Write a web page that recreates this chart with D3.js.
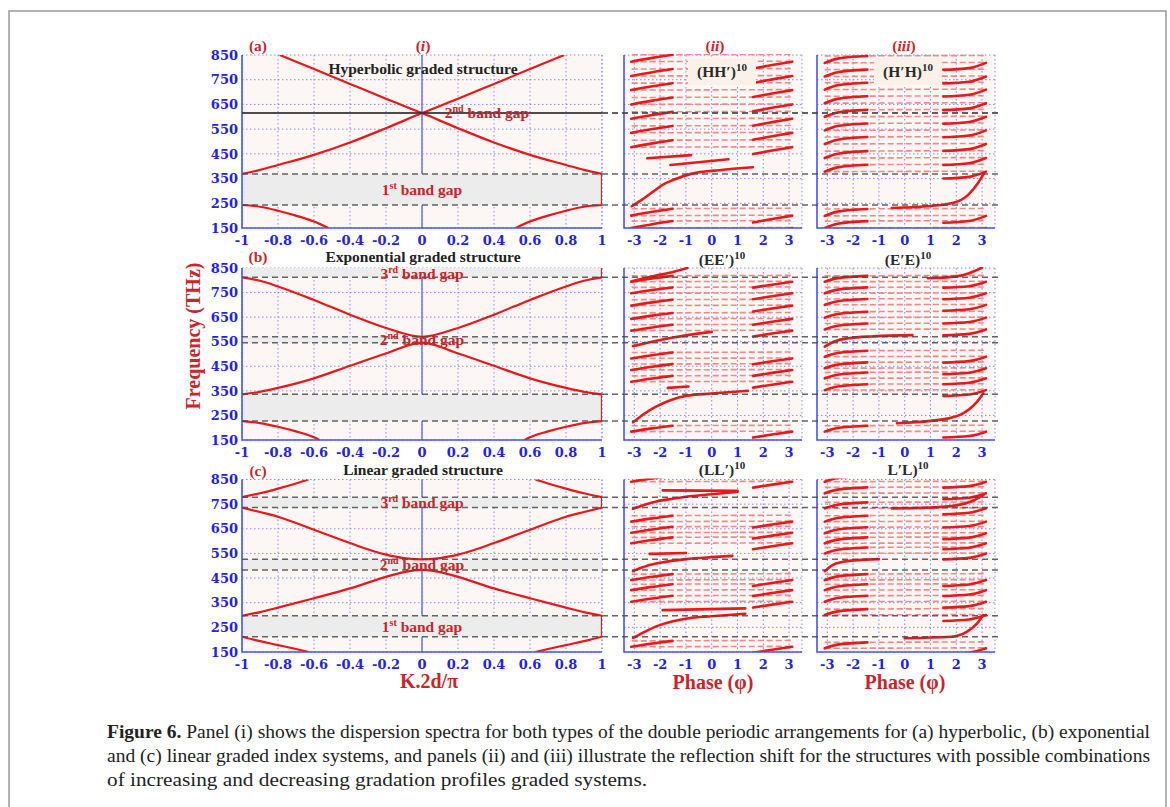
<!DOCTYPE html>
<html>
<head>
<meta charset="utf-8">
<script src="https://cdn.jsdelivr.net/npm/d3@7"></script>
<style>
  body { margin: 0; background: #fff; }
  svg { display: block; }
  .tick { font-family: "DejaVu Serif", serif; font-weight: bold; font-size: 13px; fill: #2424e0; }
  .lbl { font-family: "Liberation Serif", serif; font-weight: bold; font-size: 15.5px; }
  .ttl { font-family: "Liberation Serif", serif; font-weight: bold; font-size: 20px; fill: #c8262a; }
  .cap { font-family: "Liberation Serif", serif; font-size: 18.5px; fill: #222; }
</style>
</head>
<body>
<div id="chart"></div>
<script>
// ---- data ----
var freqTicks = [150, 250, 350, 450, 550, 650, 750, 850];
var kTicks = [-1, -0.8, -0.6, -0.4, -0.2, 0, 0.2, 0.4, 0.6, 0.8, 1];
var phaseTicks = [-3, -2, -1, 0, 1, 2, 3];
var rowLetters = ['(a)', '(b)', '(c)'];
var colTitles = ['i', 'ii', 'iii'];
var structures = ['Hyperbolic graded structure', 'Exponential graded structure', 'Linear graded structure'];
var stackII = ['(HH\u2032)', '(EE\u2032)', '(LL\u2032)'];
var stackIII = ['(H\u2032H)', '(E\u2032E)', 'L\u2032L)'];
var periods = '10';

// band gap edges, THz
var gapsA = [[243, 369], [615, 615]];
var gapsB = [[227, 336], [546, 570], [812, 870]];
var gapsC = [[212, 297], [483, 526], [736, 778]];

var gapNamesA = [['2', 'nd'], ['1', 'st']];
var gapNamesB = [['3', 'rd'], ['2', 'nd']];
var gapNamesC = [['3', 'rd'], ['2', 'nd'], ['1', 'st']];

// dispersion branches [K.2d/pi, THz]
var bandsA = [
  [[-1, 243], [-0.9, 236], [-0.8, 220], [-0.7, 200], [-0.6, 176], [-0.52, 150]],
  [[0.52, 150], [0.6, 176], [0.7, 200], [0.8, 220], [0.9, 236], [1, 243]],
  [[-1, 369], [-0.9, 385], [-0.8, 405], [-0.6, 446], [-0.4, 496], [-0.2, 554], [0, 615], [0.2, 673], [0.4, 733], [0.6, 793], [0.79, 850]],
  [[-0.79, 850], [-0.6, 793], [-0.4, 733], [-0.2, 673], [0, 615], [0.2, 554], [0.4, 496], [0.6, 446], [0.8, 405], [0.9, 385], [1, 369]]
];
var bandsB = [
  [[-1, 227], [-0.9, 219], [-0.8, 204], [-0.7, 185], [-0.6, 161], [-0.57, 150]],
  [[0.57, 150], [0.6, 161], [0.7, 185], [0.8, 204], [0.9, 219], [1, 227]],
  [[-1, 336], [-0.9, 346], [-0.8, 362], [-0.6, 401], [-0.4, 452], [-0.2, 502], [0, 546], [0.2, 502], [0.4, 452], [0.6, 401], [0.8, 362], [0.9, 346], [1, 336]],
  [[-1, 812], [-0.9, 798], [-0.8, 775], [-0.6, 720], [-0.4, 660], [-0.2, 606], [0, 570], [0.2, 606], [0.4, 660], [0.6, 720], [0.8, 775], [0.9, 798], [1, 812]]
];
var bandsC = [
  [[-1, 212], [-0.93, 199], [-0.8, 178], [-0.7, 162], [-0.63, 150]],
  [[0.63, 150], [0.7, 162], [0.8, 178], [0.93, 199], [1, 212]],
  [[-1, 297], [-0.9, 312], [-0.8, 330], [-0.6, 368], [-0.4, 408], [-0.2, 455], [-0.1, 474], [0, 483], [0.1, 474], [0.2, 455], [0.4, 408], [0.6, 368], [0.8, 330], [0.9, 312], [1, 297]],
  [[-1, 736], [-0.9, 718], [-0.8, 699], [-0.6, 646], [-0.4, 592], [-0.2, 545], [-0.1, 531], [0, 526], [0.1, 531], [0.2, 545], [0.4, 592], [0.6, 646], [0.8, 699], [0.9, 718], [1, 736]],
  [[-1, 778], [-0.9, 794], [-0.8, 813], [-0.7, 834], [-0.63, 850]],
  [[0.63, 850], [0.7, 834], [0.8, 813], [0.9, 794], [1, 778]]
];

// reflection phase: branch levels at phase = +-pi (THz), and extra branches [phase, THz]
var levelsIIa = [823, 765, 708, 650, 592, 535, 477, 200, 150];
var levelsIIIa = [818, 763, 710, 655, 600, 545, 490, 433, 378, 199, 150];
var levelsIIb = [794, 747, 697, 643, 595, 482, 435, 387, 184];
var levelsIIIb = [794, 747, 700, 648, 600, 489, 442, 401, 353, 184];
var levelsIIc = [841, 679, 634, 591, 442, 401, 354, 171];
var levelsIIIc = [841, 794, 733, 679, 632, 591, 550, 442, 401, 354, 300, 165];
var riseII = [28, 24, 24];
var riseIII = [28, 24, 24];

var extraIIa = [
  [[-3.1, 238], [-2.7, 265], [-2.27, 297], [-1.9, 325], [-1.5, 344], [-0.8, 369], [0.3, 384], [1.6, 396]],
  [[-1.6, 405], [0.65, 428]],
  [[-2.5, 432], [-0.8, 445]]
];
var extraIIIa = [
  [[-0.5, 231], [1.0, 239], [1.9, 252], [2.44, 282], [2.83, 330], [3.1, 375]]
];
var extraIIb = [
  [[-3.1, 796], [-2.2, 818], [-1.5, 834], [-0.95, 850]],
  [[-3.05, 532], [-1.5, 567], [0, 590]],
  [[-3.05, 222], [-2.6, 258], [-2.14, 287], [-1.6, 312], [-0.98, 330], [0, 339], [1.4, 350]],
  [[-1.7, 362], [-0.9, 368]]
];
var extraIIIb = [
  [[0.9, 808], [2.0, 816], [2.5, 829], [3.0, 852]],
  [[-3.1, 530], [-2.7, 552], [-2.2, 564], [-1.2, 572], [0.3, 577]],
  [[-0.3, 218], [1.0, 228], [1.7, 238], [2.2, 255], [2.5, 275], [2.8, 305], [3.05, 340]]
];
var extraIIc = [
  [[-3.05, 731], [-2.6, 748], [-2.14, 761], [-1.5, 772], [-0.98, 780], [0, 790], [1.0, 800]],
  [[-1.9, 806], [1.0, 804]],
  [[-3.05, 478], [-2.5, 500], [-2, 512], [-1, 527], [0, 535], [0.8, 540]],
  [[-2.4, 548], [-1, 552]],
  [[-3.05, 207], [-2.6, 232], [-2.1, 256], [-1.5, 275], [-0.9, 287], [0, 295], [1.3, 305]],
  [[-1.9, 320], [1.3, 327]]
];
var extraIIIc = [
  [[-0.5, 733], [1.0, 736], [2.0, 745], [2.6, 762], [3.05, 787]],
  [[-3.1, 478], [-2.8, 503], [-2.4, 516], [-1.8, 523], [-1.0, 527]],
  [[0, 206], [1.8, 212], [2.4, 232], [2.8, 265], [3.05, 300]]
];

var captionLines = [
  'Panel (i) shows the dispersion spectra for both types of the double periodic arrangements for (a) hyperbolic, (b) exponential',
  'and (c) linear graded index systems, and panels (ii) and (iii) illustrate the reflection shift for the structures with possible combinations',
  'of increasing and decreasing gradation profiles graded systems.'
];

// ---- layout ----
var W = 1170, H = 807;
var red = '#e8191b', dashRed = '#f08a88', axisBlue = '#4556ee', gridBlue = '#8a8cf2',
    darkRed = '#c8262a', plotBg = '#fcf6f4', gapFill = '#ececec';

var rowRanges = [[228, 55], [440, 268], [652, 479.5]];
var gapsRows = [gapsA, gapsB, gapsC];
var bandsRows = [bandsA, bandsB, bandsC];
var gapNamesRows = [gapNamesA, gapNamesB, gapNamesC];
var gapLabelPos = [[[487, 118], [422, 195]], [[422, 279], [422, 345]], [[422, 508], [422, 570], [422, 632]]];
var levelsRows = [[levelsIIa, levelsIIIa], [levelsIIb, levelsIIIb], [levelsIIc, levelsIIIc]];
var extraRows = [[extraIIa, extraIIIa], [extraIIb, extraIIIb], [extraIIc, extraIIIc]];

var svg = d3.select('#chart').append('svg')
  .attr('width', W).attr('height', H)
  .attr('viewBox', '0 0 ' + W + ' ' + H);

// page frame
svg.append('path').attr('d', 'M9,807 V11 H1166 V807')
  .attr('fill', 'none').attr('stroke', '#9a9a9a').attr('stroke-width', 1.5);

var kScale = d3.scaleLinear().domain([-1, 1]).range([242, 602]);
var phScales = [
  d3.scaleLinear().domain([-3.4, 3.5]).range([624, 802]),
  d3.scaleLinear().domain([-3.4, 3.5]).range([817, 995])
];
var defs = svg.append('defs');

function frame(g, x, y, xt) {
  var x0 = x.range()[0], x1 = x.range()[1], y0 = y(850), y1 = y(150);
  g.append('rect').attr('x', x0).attr('y', y0).attr('width', x1 - x0).attr('height', y1 - y0)
    .attr('fill', plotBg);
  var grid = g.append('g').attr('stroke', gridBlue).attr('stroke-width', 1)
    .attr('stroke-dasharray', '1.5,2.5');
  grid.selectAll('.gx').data(xt).enter().append('line')
    .attr('x1', function(d) { return x(d); }).attr('x2', function(d) { return x(d); })
    .attr('y1', y0).attr('y2', y1);
  grid.selectAll('.gy').data(freqTicks).enter().append('line')
    .attr('x1', x0).attr('x2', x1)
    .attr('y1', function(d) { return y(d); }).attr('y2', function(d) { return y(d); });
  grid.append('line').attr('x1', x1).attr('x2', x1).attr('y1', y0).attr('y2', y1);
}

function axes(g, x, y, xt) {
  var x0 = x.range()[0], x1 = x.range()[1], y0 = y(850), y1 = y(150);
  g.append('path').attr('d', 'M' + x0 + ',' + y0 + 'V' + y1 + 'H' + x1)
    .attr('fill', 'none').attr('stroke', axisBlue).attr('stroke-width', 1.6);
  g.selectAll('.xl').data(xt).enter().append('text')
    .attr('class', 'tick').attr('text-anchor', 'middle')
    .attr('x', function(d) { return x(d); }).attr('y', y1 + 17)
    .text(function(d) { return String(d); });
}

function pathFor(x, y) {
  return d3.line().x(function(d) { return x(d[0]); }).y(function(d) { return y(d[1]); })
    .curve(d3.curveMonotoneX);
}

rowRanges.forEach(function(rr, r) {
  var y = d3.scaleLinear().domain([150, 850]).range(rr);
  var gaps = gapsRows[r];
  var top = y(850), bot = y(150);

  // ---- panel (i): dispersion ----
  var gi = svg.append('g');
  var cid = 'clip-i-' + r;
  defs.append('clipPath').attr('id', cid).append('rect')
    .attr('x', kScale(-1)).attr('y', top).attr('width', kScale(1) - kScale(-1)).attr('height', bot - top);
  frame(gi, kScale, y, kTicks);
  gi.append('line').attr('x1', kScale(0)).attr('x2', kScale(0)).attr('y1', top).attr('y2', bot)
    .attr('stroke', '#6d74f2').attr('stroke-width', 1.5);
  var clipped = gi.append('g').attr('clip-path', 'url(#' + cid + ')');
  clipped.selectAll('.gap').data(gaps).enter().append('rect')
    .attr('x', kScale(-1)).attr('width', kScale(1) - kScale(-1))
    .attr('y', function(d) { return y(d[1]); })
    .attr('height', function(d) { return y(d[0]) - y(d[1]); })
    .attr('fill', gapFill);
  var bandLine = pathFor(kScale, y);
  clipped.selectAll('.band').data(bandsRows[r]).enter().append('path')
    .attr('d', bandLine).attr('fill', 'none').attr('stroke', red).attr('stroke-width', 2.2);
  // gap edges at the zone boundary
  clipped.selectAll('.edge').data(gaps.filter(function(d, i) { return i !== 1; })).enter().append('line')
    .attr('x1', kScale(1)).attr('x2', kScale(1))
    .attr('y1', function(d) { return y(d[0]); }).attr('y2', function(d) { return y(d[1]); })
    .attr('stroke', red).attr('stroke-width', 2.2);
  axes(gi, kScale, y, kTicks);
  gi.selectAll('.yl').data(freqTicks).enter().append('text')
    .attr('class', 'tick').attr('text-anchor', 'end')
    .attr('x', 238).attr('y', function(d) { return y(d); }).attr('dy', '0.36em')
    .text(function(d) { return d; });

  // ---- panels (ii), (iii): reflection phase ----
  phScales.forEach(function(x, c) {
    var g = svg.append('g');
    var pid = 'clip-p-' + r + '-' + c;
    defs.append('clipPath').attr('id', pid).append('rect')
      .attr('x', x.range()[0]).attr('y', top - 1).attr('width', x.range()[1] - x.range()[0]).attr('height', bot - top + 1);
    frame(g, x, y, phaseTicks);
    var cg = g.append('g').attr('clip-path', 'url(#' + pid + ')');
    var levels = levelsRows[r][c];
    var rise = c === 0 ? riseII[r] : riseIII[r];
    var p = pathFor(x, y);
    var dashLevels = d3.merge(levels.map(function(f) { return [f, f + rise]; }));
    cg.selectAll('.dl').data(dashLevels).enter().append('line')
      .attr('x1', x(-3.1)).attr('x2', x(3.15))
      .attr('y1', function(d) { return y(d); }).attr('y2', function(d) { return y(d + 2); })
      .attr('stroke', dashRed).attr('stroke-width', 1.6).attr('stroke-dasharray', '6,3');
    var left = levels.map(function(f) {
      return c === 0 ? [[-3.12, f], [-2.3, f + rise * 0.55], [-1.52, f + rise]]
                     : [[-3.1, f], [-2.6, f + rise * 0.62], [-1.45, f + rise]];
    });
    var right = levels.map(function(f) {
      return c === 0 ? [[1.6, f - rise], [2.4, f - rise * 0.45], [3.12, f]]
                     : [[1.5, f - rise], [2.5, f - rise * 0.75], [3.15, f]];
    });
    cg.selectAll('.seg').data(left.concat(right).concat(extraRows[r][c])).enter().append('path')
      .attr('d', p).attr('fill', 'none').attr('stroke', red).attr('stroke-width', 2.6)
      .attr('stroke-linecap', 'round');
    axes(g, x, y, phaseTicks);
  });

  // band gap edge lines across all panels (solid inside panel (i) when the gap closes)
  var edges = d3.merge(gaps).filter(function(f) { return f < 850; });
  var eg = svg.append('g').attr('stroke', '#4a4a4a').attr('stroke-width', 1.5).attr('stroke-opacity', 0.85);
  eg.selectAll('.ed').data(edges).enter().append('line')
    .attr('x1', function(d) { return r === 0 && d === 615 ? kScale(1) : kScale(-1); }).attr('x2', 1000)
    .attr('y1', function(d) { return y(d); }).attr('y2', function(d) { return y(d); })
    .attr('stroke-dasharray', '6,4');
  eg.selectAll('.es').data(edges.filter(function(d) { return r === 0 && d === 615; })).enter().append('line')
    .attr('x1', kScale(-1)).attr('x2', kScale(1))
    .attr('y1', function(d) { return y(d); }).attr('y2', function(d) { return y(d); })
    .attr('stroke', '#333');

  // labels
  svg.append('text').attr('class', 'lbl').attr('fill', darkRed).attr('font-size', '17px')
    .attr('x', 258).attr('y', [51, 262, 476][r]).attr('text-anchor', 'middle').text(rowLetters[r]);
  svg.append('text').attr('class', 'lbl').attr('fill', '#222')
    .attr('x', 423).attr('y', [74, 262, 475][r]).attr('text-anchor', 'middle').text(structures[r]);

  gapNamesRows[r].forEach(function(n, i) {
    var pos = gapLabelPos[r][i];
    var t = svg.append('text').attr('class', 'lbl').attr('fill', darkRed)
      .attr('x', pos[0]).attr('y', pos[1]).attr('text-anchor', 'middle');
    t.append('tspan').text(n[0]);
    t.append('tspan').attr('dy', -6).attr('font-size', '10px').text(n[1]);
    t.append('tspan').attr('dy', 6).text(' band gap');
  });

  [stackII[r], stackIII[r]].forEach(function(s, c) {
    var cx = [722, 908][c], by = [77, 265, 475][r];
    if (r === 0) {
      svg.append('rect').attr('x', cx - 34).attr('y', 58).attr('width', 68).attr('height', 27)
        .attr('fill', '#fcf1e8');
    }
    var t = svg.append('text').attr('class', 'lbl').attr('fill', '#2a2a2a')
      .attr('x', cx).attr('y', by).attr('text-anchor', 'middle');
    t.append('tspan').text(s);
    t.append('tspan').attr('dy', -6).attr('font-size', '11px').text(periods);
  });
});

// column titles
[423, 715, 904].forEach(function(cx, i) {
  svg.append('text').attr('class', 'lbl').attr('fill', darkRed).attr('font-size', '17px')
    .attr('x', cx).attr('y', 51).attr('text-anchor', 'middle')
    .html('(<tspan font-style="italic">' + colTitles[i] + '</tspan>)');
});

// axis titles
svg.append('text').attr('class', 'ttl').attr('text-anchor', 'middle')
  .attr('transform', 'translate(193,336) rotate(-90)').attr('dy', '0.35em')
  .text('Frequency (THz)');
svg.append('text').attr('class', 'ttl').attr('text-anchor', 'middle')
  .attr('x', 429).attr('y', 688).text('K.2d/\u03c0');
[713, 905].forEach(function(cx) {
  svg.append('text').attr('class', 'ttl').attr('text-anchor', 'middle')
    .attr('x', cx).attr('y', 689).text('Phase (\u03c6)');
});

// caption
var capLen = [1043, 1043, 540];
captionLines.forEach(function(s, i) {
  var t = svg.append('text').attr('class', 'cap')
    .attr('x', 107).attr('y', 738 + i * 24)
    .attr('textLength', capLen[i]).attr('lengthAdjust', 'spacingAndGlyphs');
  if (i === 0) {
    t.append('tspan').attr('font-weight', 'bold').text('Figure 6. ');
  }
  t.append('tspan').text(s);
});
</script>
</body>
</html>
